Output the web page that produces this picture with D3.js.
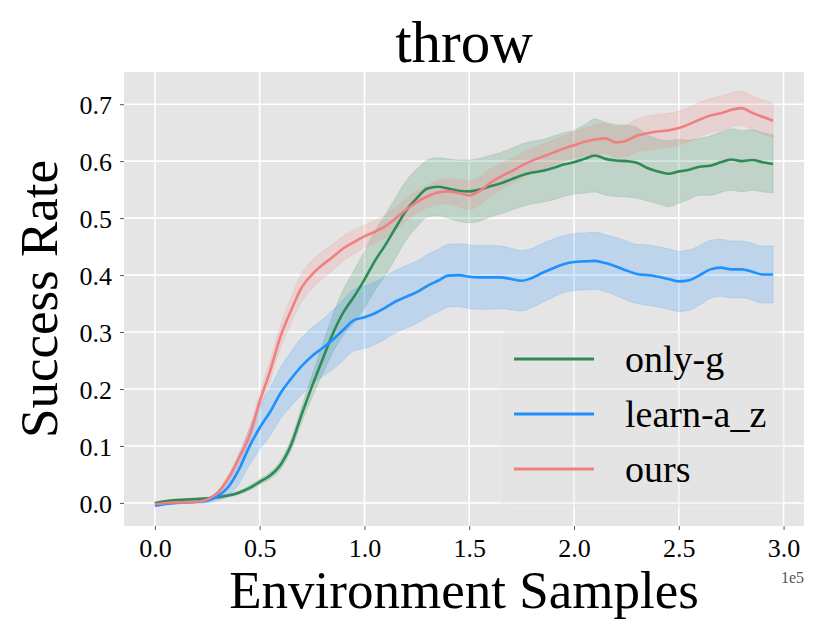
<!DOCTYPE html>
<html><head><meta charset="utf-8">
<script src="https://cdn.jsdelivr.net/npm/d3@7"></script>
<style>body{margin:0;background:#fff}svg{display:block}text{font-family:"Liberation Serif","Times New Roman",serif}</style>
</head><body><svg id="c" width="830" height="639"></svg>
<script>
const title = "throw";
const xLabel = "Environment Samples";
const yLabel = "Success Rate";
const xTicks = [0, 0.5, 1.0, 1.5, 2.0, 2.5, 3.0];
const yTicks = [0, 0.1, 0.2, 0.3, 0.4, 0.5, 0.6, 0.7];
const seriesNames = ["only-g", "learn-a_z", "ours"];
const seriesColors = ["#2e8b57", "#1e90ff", "#f08080"];
const xs = [0,0.05,0.1,0.15,0.2,0.25,0.3,0.35,0.4,0.45,0.5,0.55,0.6,0.65,0.7,0.75,0.8,0.85,0.9,0.95,
  1.0,1.05,1.1,1.15,1.2,1.25,1.3,1.35,1.4,1.45,1.5,1.55,1.6,1.65,1.7,1.75,1.8,1.85,1.9,1.95,
  2.0,2.05,2.1,2.15,2.2,2.25,2.3,2.35,2.4,2.45,2.5,2.55,2.6,2.65,2.7,2.75,2.8,2.85,2.9,2.95];
const onlyGMean = [0.0,0.003,0.005,0.006,0.007,0.008,0.010,0.013,0.018,0.026,0.037,0.048,0.067,0.102,0.155,0.205,0.252,0.298,0.335,0.362,
  0.392,0.425,0.453,0.484,0.514,0.535,0.552,0.555,0.552,0.548,0.547,0.550,0.556,0.561,0.568,0.575,0.580,0.583,0.588,0.594,
  0.598,0.604,0.610,0.604,0.601,0.600,0.597,0.588,0.582,0.578,0.582,0.585,0.590,0.592,0.598,0.603,0.600,0.602,0.598,0.595];
const onlyGStd = [0.002,0.002,0.002,0.002,0.002,0.002,0.003,0.003,0.003,0.004,0.005,0.006,0.008,0.010,0.014,0.020,0.026,0.033,0.040,0.046,
  0.050,0.052,0.053,0.053,0.052,0.051,0.050,0.051,0.052,0.054,0.055,0.055,0.054,0.054,0.054,0.055,0.055,0.055,0.056,0.056,
  0.056,0.060,0.064,0.064,0.063,0.063,0.062,0.058,0.057,0.058,0.056,0.052,0.050,0.052,0.053,0.054,0.054,0.053,0.052,0.051];
const learnMean = [-0.005,-0.002,0.0,0.001,0.002,0.004,0.012,0.028,0.058,0.098,0.132,0.160,0.193,0.218,0.240,0.258,0.272,0.287,0.304,0.321,
  0.326,0.333,0.343,0.354,0.362,0.370,0.381,0.390,0.399,0.400,0.397,0.396,0.396,0.396,0.393,0.390,0.395,0.404,0.412,0.419,
  0.423,0.424,0.425,0.421,0.415,0.408,0.402,0.400,0.397,0.393,0.389,0.391,0.400,0.410,0.413,0.410,0.410,0.406,0.401,0.401];
const learnStd = [0.002,0.002,0.002,0.002,0.003,0.004,0.008,0.015,0.025,0.032,0.038,0.042,0.045,0.048,0.050,0.050,0.050,0.052,0.053,0.054,
  0.055,0.055,0.055,0.055,0.055,0.055,0.055,0.055,0.055,0.055,0.056,0.056,0.056,0.055,0.054,0.053,0.052,0.052,0.051,0.050,
  0.050,0.050,0.050,0.050,0.051,0.052,0.052,0.053,0.053,0.053,0.053,0.053,0.052,0.051,0.050,0.050,0.050,0.050,0.050,0.050];
const oursMean = [-0.002,0.0,0.001,0.001,0.002,0.006,0.018,0.043,0.078,0.117,0.178,0.232,0.293,0.338,0.378,0.401,0.418,0.432,0.447,0.458,
  0.468,0.476,0.486,0.500,0.515,0.528,0.538,0.545,0.547,0.544,0.540,0.548,0.562,0.573,0.582,0.592,0.601,0.608,0.615,0.622,
  0.628,0.634,0.638,0.640,0.633,0.636,0.645,0.649,0.652,0.654,0.658,0.665,0.673,0.680,0.684,0.690,0.693,0.685,0.678,0.671];
const oursStd = [0.002,0.002,0.002,0.002,0.002,0.003,0.004,0.007,0.010,0.013,0.015,0.018,0.020,0.023,0.025,0.025,0.024,0.023,0.022,0.021,
  0.020,0.020,0.020,0.020,0.020,0.020,0.020,0.021,0.022,0.024,0.025,0.025,0.024,0.023,0.022,0.022,0.022,0.022,0.022,0.022,
  0.023,0.024,0.025,0.026,0.027,0.028,0.029,0.030,0.030,0.030,0.030,0.030,0.030,0.030,0.030,0.030,0.030,0.030,0.030,0.030];

const svg = d3.select("#c");
const L = 124, R = 804, T = 72, B = 526;
const x = d3.scaleLinear().domain([-0.1475, 3.0975]).range([L, R]);
const y = d3.scaleLinear().domain([-0.0405, 0.7565]).range([B, T]);

svg.append("rect").attr("x", L).attr("y", T).attr("width", R - L).attr("height", B - T).attr("fill", "#e5e5e5");
const g = svg.append("g");
xTicks.forEach(t => g.append("line").attr("x1", x(t)).attr("x2", x(t)).attr("y1", T).attr("y2", B).attr("stroke", "#fff").attr("stroke-width", 1.6));
yTicks.forEach(t => g.append("line").attr("y1", y(t)).attr("y2", y(t)).attr("x1", L).attr("x2", R).attr("stroke", "#fff").attr("stroke-width", 1.6));

const series = [
  {name: seriesNames[0], color: seriesColors[0], mean: onlyGMean, std: onlyGStd},
  {name: seriesNames[1], color: seriesColors[1], mean: learnMean, std: learnStd},
  {name: seriesNames[2], color: seriesColors[2], mean: oursMean, std: oursStd}
];
const area = d3.area().curve(d3.curveMonotoneX).x((d, i) => x(xs[i])).y0(d => y(d[0] - d[1])).y1(d => y(d[0] + d[1]));
const line = d3.line().curve(d3.curveMonotoneX).x((d, i) => x(xs[i])).y(d => y(d));
series.forEach(s => {
  const pts = s.mean.map((m, i) => [m, s.std[i]]);
  g.append("path").attr("d", area(pts)).attr("fill", s.color).attr("fill-opacity", 0.2)
    .attr("stroke", s.color).attr("stroke-opacity", 0.15).attr("stroke-width", 1);
});
series.forEach(s => {
  g.append("path").attr("d", line(s.mean)).attr("fill", "none").attr("stroke", s.color).attr("stroke-width", 2.6).attr("stroke-linejoin", "round");
});

// axes
const xAxis = svg.append("g").attr("transform", `translate(0,${B})`)
  .call(d3.axisBottom(x).tickValues(xTicks).tickFormat(d3.format(".1f")).tickSize(4).tickPadding(9));
const yAxis = svg.append("g").attr("transform", `translate(${L},0)`)
  .call(d3.axisLeft(y).tickValues(yTicks).tickFormat(d3.format(".1f")).tickSize(4).tickPadding(8));
[xAxis, yAxis].forEach(a => {
  a.select(".domain").remove();
  a.selectAll(".tick line").attr("stroke", "#555").attr("stroke-width", 1);
  a.selectAll(".tick text").attr("fill", "#000").style("font-size", "26px").style("font-family", '"Liberation Serif", serif');
});
yAxis.selectAll(".tick text").attr("dy", "0.35em");

svg.append("text").attr("x", R).attr("y", 583).attr("text-anchor", "end").attr("fill", "#555").style("font-size", "16px").text("1e5");

svg.append("text").attr("x", (L + R) / 2).attr("y", 62).attr("text-anchor", "middle").style("font-size", "59px").text(title);
svg.append("text").attr("x", (L + R) / 2).attr("y", 608).attr("text-anchor", "middle").style("font-size", "53px").text(xLabel);
svg.append("text").attr("transform", `translate(57,${(T + B) / 2}) rotate(-90)`).attr("text-anchor", "middle").style("font-size", "53px").text(yLabel);

// legend
const leg = svg.append("g");
leg.append("rect").attr("x", 500).attr("y", 332).attr("width", 283).attr("height", 175).attr("rx", 7)
  .attr("fill", "#e5e5e5").attr("fill-opacity", 0.25).attr("stroke", "#ebebeb").attr("stroke-width", 1);
series.forEach((s, i) => {
  const ly = 359 + i * 55;
  leg.append("line").attr("x1", 514).attr("x2", 594).attr("y1", ly).attr("y2", ly).attr("stroke", s.color).attr("stroke-width", 3);
  leg.append("text").attr("x", 625).attr("y", ly + 13).style("font-size", "38px").text(s.name);
});
</script></body></html>
